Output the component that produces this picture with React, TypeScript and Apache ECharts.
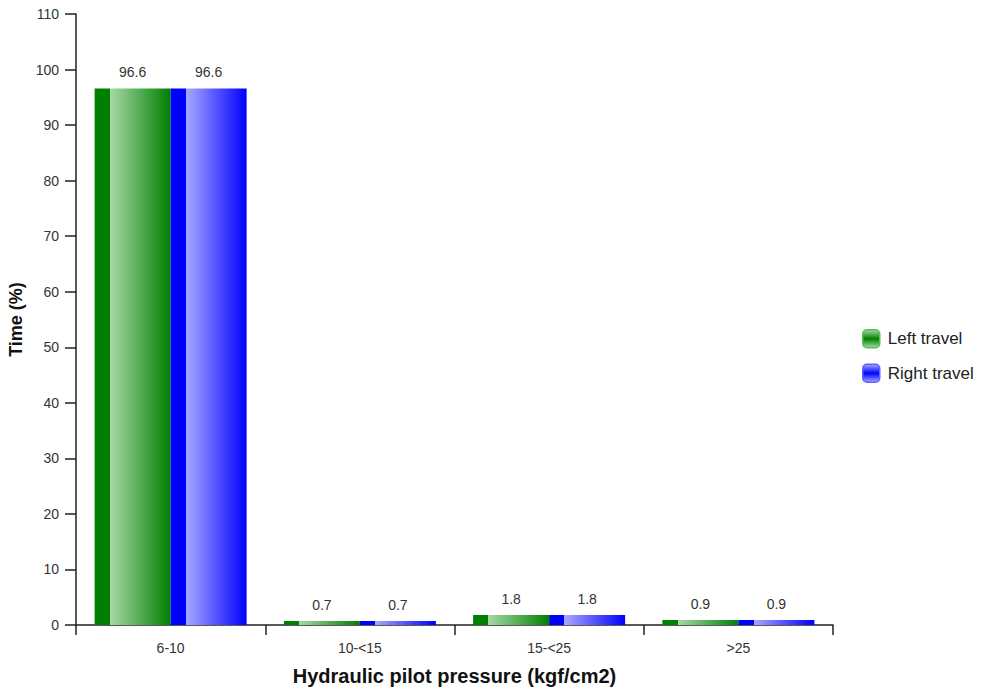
import React, { useEffect, useRef } from "react";
import * as echarts from "echarts";

const categories = ["6-10", "10-<15", "15-<25", ">25"];
const leftTravel = [96.6, 0.7, 1.8, 0.9];
const rightTravel = [96.6, 0.7, 1.8, 0.9];

const grad = (dark: string, light: string) =>
  new echarts.graphic.LinearGradient(0, 0, 1, 0, [
    { offset: 0, color: dark },
    { offset: 0.2, color: dark },
    { offset: 0.2001, color: light },
    { offset: 1, color: dark },
  ]);

const iconGrad = (dark: string, light: string) =>
  new echarts.graphic.LinearGradient(0, 0, 0, 1, [
    { offset: 0, color: light },
    { offset: 0.5, color: dark },
    { offset: 1, color: light },
  ]);

export default function App() {
  const ref = useRef<HTMLDivElement>(null);
  useEffect(() => {
    const chart = echarts.init(ref.current!, null, { renderer: "svg" });
    const font = "Liberation Sans, Arial, sans-serif";
    chart.setOption({
      animation: false,
      textStyle: { fontFamily: font },
      grid: { left: 76, right: 148, top: 14, bottom: 68, containLabel: false, outerBoundsMode: "none" },
      legend: {
        orient: "vertical",
        left: 862,
        top: 329,
        padding: 0,
        itemWidth: 17,
        itemHeight: 18,
        itemGap: 15,
        icon: "roundRect",
        textStyle: { fontSize: 17, color: "#222", fontFamily: font, padding: [0, 0, 0, 3] },
        data: [
          { name: "Left travel", itemStyle: { color: iconGrad("#008000", "#a8d8a8"), borderColor: "#55c055", borderWidth: 1.5 } },
          { name: "Right travel", itemStyle: { color: iconGrad("#0000ff", "#a8a8ff"), borderColor: "#6060ff", borderWidth: 1.5 } },
        ],
      },
      xAxis: {
        type: "category",
        data: categories,
        name: "Hydraulic pilot pressure (kgf/cm2)",
        nameLocation: "middle",
        nameGap: 41,
        nameTextStyle: { fontSize: 20, fontWeight: "bold", color: "#111", fontFamily: font },
        axisLine: { lineStyle: { color: "#222", width: 1.5 } },
        axisTick: { show: true, length: 10, alignWithLabel: false, lineStyle: { color: "#222", width: 1.5 } },
        axisLabel: { fontSize: 14, color: "#333", margin: 16, fontFamily: font },
      },
      yAxis: {
        type: "value",
        min: 0,
        max: 110,
        interval: 10,
        name: "Time (%)",
        nameLocation: "middle",
        nameGap: 50,
        nameTextStyle: { fontSize: 18, fontWeight: "bold", color: "#111", fontFamily: font },
        axisLine: { show: true, lineStyle: { color: "#222", width: 1.5 } },
        axisTick: { show: true, length: 11, lineStyle: { color: "#222", width: 1.5 } },
        axisLabel: { fontSize: 14, color: "#333", margin: 17, fontFamily: font },
        splitLine: { show: false },
      },
      series: [
        {
          name: "Left travel",
          type: "bar",
          data: leftTravel,
          barWidth: 76,
          barGap: "0%",
          itemStyle: { color: grad("#008000", "#a8d8a8") },
          label: { show: true, position: "top", fontSize: 14, color: "#333", distance: 9, fontFamily: font },
        },
        {
          name: "Right travel",
          type: "bar",
          data: rightTravel,
          barWidth: 76,
          barGap: "0%",
          itemStyle: { color: grad("#0000ff", "#a8a8ff") },
          label: { show: true, position: "top", fontSize: 14, color: "#333", distance: 9, fontFamily: font },
        },
      ],
    });
    return () => chart.dispose();
  }, []);
  return <div ref={ref} style={{ position: "absolute", left: 0, top: 0, width: 981, height: 693 }} />;
}
